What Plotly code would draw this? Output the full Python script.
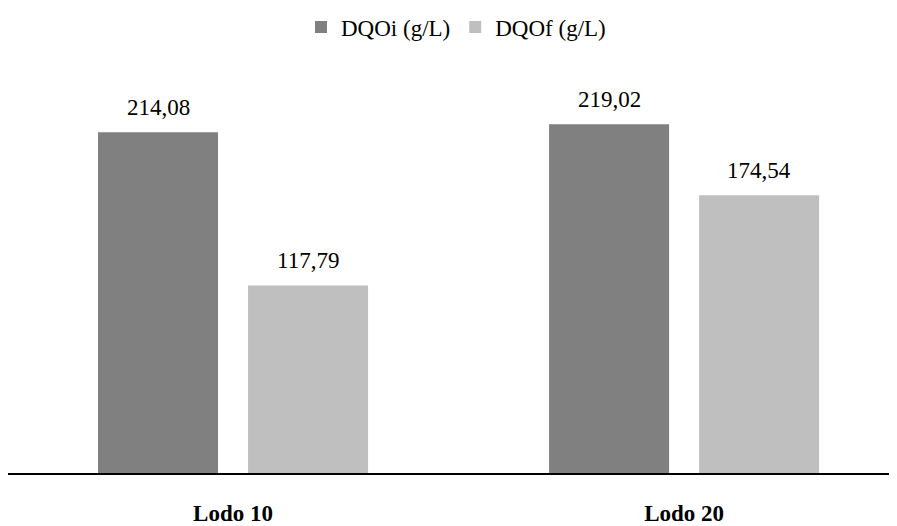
import plotly.graph_objects as go

categories = ["Lodo 10", "Lodo 20"]
dqo_i = [214.08, 219.02]
dqo_f = [117.79, 174.54]
series_names = ["DQOi (g/L)", "DQOf (g/L)"]
colors = ["#808080", "#BFBFBF"]

FONT = "Liberation Serif"

fig = go.Figure()
for name, vals, col in zip(series_names, [dqo_i, dqo_f], colors):
    fig.add_trace(go.Bar(x=categories, y=vals, name=name,
                         marker=dict(color=col, line=dict(width=0))))

# value labels
for vals, shift in zip([dqo_i, dqo_f], [-75, 75]):
    for c, v in zip(categories, vals):
        fig.add_annotation(x=c, y=v, text=f"{v:.2f}".replace(".", ","),
                           showarrow=False, yanchor="bottom", xshift=shift, yshift=10,
                           font=dict(family=FONT, size=23, color="#000000"))

W, H = 889, 518
fig.update_layout(
    width=W, height=H,
    margin=dict(l=0, r=0, t=67, b=49),
    paper_bgcolor="white", plot_bgcolor="white",
    barmode="group", bargap=0.3348, bargroupgap=0.2,
    font=dict(family=FONT, size=23, color="#000000"),
    legend=dict(orientation="h", xref="container", yref="container",
                x=448 / W, xanchor="center", y=1 - 19 / H, yanchor="middle",
                font=dict(family=FONT, size=23, color="#000000"),
                itemwidth=30, traceorder="normal"),
    xaxis=dict(range=[-0.4989, 1.472], showline=True, linecolor="#000000", linewidth=2,
               showgrid=False, zeroline=False, ticks="", ticklabelstandoff=18,
               tickfont=dict(family=FONT, size=23, color="#000000"),
               tickvals=categories, ticktext=[f"<b>{c}</b>" for c in categories]),
    yaxis=dict(range=[0, 250], visible=False, showgrid=False, zeroline=False),
    showlegend=True,
)

fig.write_html("out.html")
